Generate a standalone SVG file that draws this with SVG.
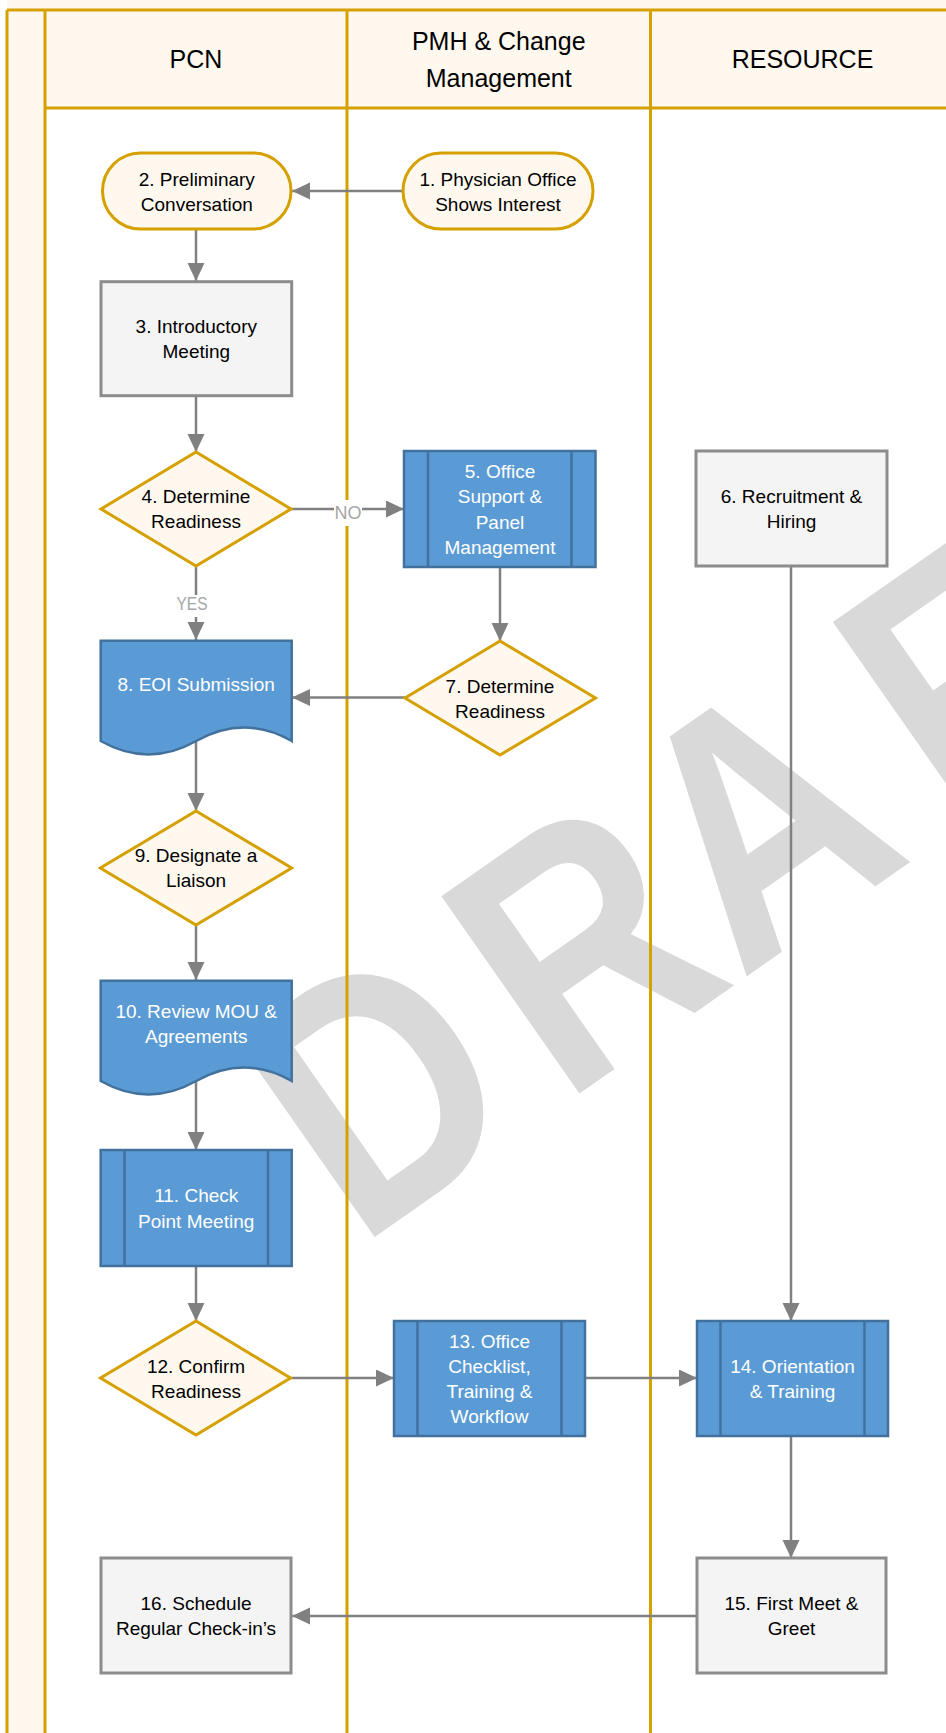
<svg xmlns="http://www.w3.org/2000/svg" width="946" height="1733" viewBox="0 0 946 1733">
<defs>
<style>
.lane{fill:none;stroke:#D5A000;stroke-width:3}
.term{fill:#FFF8EF;stroke:#D5A000;stroke-width:3}
.dec{fill:#FFF8EF;stroke:#D5A000;stroke-width:3;stroke-linejoin:miter}
.proc{fill:#F4F4F4;stroke:#8C8C8C;stroke-width:3}
.blue{fill:#5B9BD5;stroke:#41719C;stroke-width:2.5}
.bar{fill:none;stroke:#41719C;stroke-width:2.5}
.conn{fill:none;stroke:#808080;stroke-width:2.5}
.t{font-family:"Liberation Sans",Arial,sans-serif;font-size:19px;text-anchor:middle;fill:#000}
.w{fill:#FFFFFF}
.h{font-family:"Liberation Sans",Arial,sans-serif;font-size:25px;text-anchor:middle;fill:#000}
.lbl{font-family:"Liberation Sans",Arial,sans-serif;font-size:18px;text-anchor:middle;fill:#A6A6A6}
</style>
<marker id="ah" markerUnits="userSpaceOnUse" markerWidth="19" markerHeight="18" refX="18" refY="8.5" orient="auto">
<path d="M0,0 L18,8.5 L0,17 Z" fill="#808080"/>
</marker>
</defs>

<g id="pool">
<rect x="7" y="-40" width="960" height="1800" fill="#FFF8EF"/>
<rect x="45" y="108" width="920" height="1640" fill="#FFFFFF"/>
</g>

<g id="watermark" transform="translate(379,1240) rotate(-35) scale(0.85,1)">
<text x="-25.5 268.6 523.5 831 1045" y="-5" font-family="'Liberation Sans',Arial,sans-serif" font-weight="bold" font-size="350" fill="#D9D9D9">DRAFT</text>
</g>

<g id="lanes">
<line class="lane" x1="7" y1="10" x2="946" y2="10"/>
<line class="lane" x1="45" y1="108" x2="946" y2="108"/>
<line class="lane" x1="7" y1="10" x2="7" y2="1733"/>
<line class="lane" x1="45" y1="10" x2="45" y2="1733"/>
<line class="lane" x1="347" y1="10" x2="347" y2="1733"/>
<line class="lane" x1="650.5" y1="10" x2="650.5" y2="1733"/>
<text class="h" x="196" y="68.3">PCN</text>
<text class="h" x="498.75" y="50">PMH &amp; Change</text>
<text class="h" x="498.75" y="87">Management</text>
<text class="h" x="802.5" y="68.3">RESOURCE</text>
</g>

<g id="connectors">
<path class="conn" d="M403,191 H292" marker-end="url(#ah)"/>
<path class="conn" d="M196,229 V281" marker-end="url(#ah)"/>
<path class="conn" d="M196,396 V452" marker-end="url(#ah)"/>
<path class="conn" d="M291,509 H404" marker-end="url(#ah)"/>
<path class="conn" d="M196,566 V640" marker-end="url(#ah)"/>
<path class="conn" d="M500,567 V641" marker-end="url(#ah)"/>
<path class="conn" d="M405,697.5 H292" marker-end="url(#ah)"/>
<path class="conn" d="M196,741 V811" marker-end="url(#ah)"/>
<path class="conn" d="M196,925 V980" marker-end="url(#ah)"/>
<path class="conn" d="M196,1081 V1150" marker-end="url(#ah)"/>
<path class="conn" d="M196,1266 V1321" marker-end="url(#ah)"/>
<path class="conn" d="M290,1378 H394" marker-end="url(#ah)"/>
<path class="conn" d="M585,1378 H697" marker-end="url(#ah)"/>
<path class="conn" d="M791,566 V1321" marker-end="url(#ah)"/>
<path class="conn" d="M791,1436 V1558" marker-end="url(#ah)"/>
<path class="conn" d="M697,1616 H292" marker-end="url(#ah)"/>
<rect x="334" y="500" width="28" height="26" fill="#FFFFFF"/>
<text class="lbl" x="348" y="519">NO</text>
<rect x="176" y="595" width="32" height="22" fill="#FFFFFF"/>
<text class="lbl" x="192" y="609.5" textLength="31" lengthAdjust="spacingAndGlyphs">YES</text>
</g>

<g id="n1">
<rect class="term" x="403" y="153" width="190" height="76" rx="38" ry="38"/>
<text class="t" x="498" y="185.5">1. Physician Office</text>
<text class="t" x="498" y="210.5">Shows Interest</text>
</g>
<g id="n2">
<rect class="term" x="102.5" y="153" width="188.5" height="76" rx="38" ry="38"/>
<text class="t" x="196.8" y="185.5">2. Preliminary</text>
<text class="t" x="196.8" y="210.5">Conversation</text>
</g>
<g id="n3">
<rect class="proc" x="101" y="281.7" width="190.7" height="114"/>
<text class="t" x="196.3" y="333.3">3. Introductory</text>
<text class="t" x="196.3" y="358">Meeting</text>
</g>
<g id="n4">
<polygon class="dec" points="196,452 291,509 196,566 101,509"/>
<text class="t" x="196" y="502.5">4. Determine</text>
<text class="t" x="196" y="527.5">Readiness</text>
</g>
<g id="n5">
<rect class="blue" x="404" y="451" width="191.5" height="116"/>
<line class="bar" x1="428" y1="451" x2="428" y2="567"/>
<line class="bar" x1="571.5" y1="451" x2="571.5" y2="567"/>
<text class="t w" x="500" y="478">5. Office</text>
<text class="t w" x="500" y="503.3">Support &amp;</text>
<text class="t w" x="500" y="528.6">Panel</text>
<text class="t w" x="500" y="553.9">Management</text>
</g>
<g id="n6">
<rect class="proc" x="696" y="451" width="191" height="115"/>
<text class="t" x="791.5" y="502.7">6. Recruitment &amp;</text>
<text class="t" x="791.5" y="527.7">Hiring</text>
</g>
<g id="n7">
<polygon class="dec" points="500,641 595.5,698 500,755 405,698"/>
<text class="t" x="500" y="692.5">7. Determine</text>
<text class="t" x="500" y="717.7">Readiness</text>
</g>
<g id="n8">
<path class="blue" d="M100.7,640.7 H291.7 V741 Q243.95,714 196.2,741 T100.7,741 Z"/>
<text class="t w" x="196.2" y="691">8. EOI Submission</text>
</g>
<g id="n9">
<polygon class="dec" points="196,811 291.7,868 196,925 100.3,868"/>
<text class="t" x="196" y="862">9. Designate a</text>
<text class="t" x="196" y="887.3">Liaison</text>
</g>
<g id="n10">
<path class="blue" d="M100.7,980.7 H291.7 V1081 Q243.95,1054 196.2,1081 T100.7,1081 Z"/>
<text class="t w" x="196.2" y="1017.7">10. Review MOU &amp;</text>
<text class="t w" x="196.2" y="1042.7">Agreements</text>
</g>
<g id="n11">
<rect class="blue" x="100.7" y="1150" width="191" height="116"/>
<line class="bar" x1="124.5" y1="1150" x2="124.5" y2="1266"/>
<line class="bar" x1="268" y1="1150" x2="268" y2="1266"/>
<text class="t w" x="196.2" y="1202">11. Check</text>
<text class="t w" x="196.2" y="1227.5">Point Meeting</text>
</g>
<g id="n12">
<polygon class="dec" points="196,1321 290.5,1378 196,1435 100.5,1378"/>
<text class="t" x="196" y="1372.7">12. Confirm</text>
<text class="t" x="196" y="1397.5">Readiness</text>
</g>
<g id="n13">
<rect class="blue" x="394" y="1321" width="191" height="115"/>
<line class="bar" x1="417.5" y1="1321" x2="417.5" y2="1436"/>
<line class="bar" x1="561.5" y1="1321" x2="561.5" y2="1436"/>
<text class="t w" x="489.5" y="1348">13. Office</text>
<text class="t w" x="489.5" y="1373">Checklist,</text>
<text class="t w" x="489.5" y="1398">Training &amp;</text>
<text class="t w" x="489.5" y="1423">Workflow</text>
</g>
<g id="n14">
<rect class="blue" x="697" y="1321" width="191" height="115"/>
<line class="bar" x1="720.5" y1="1321" x2="720.5" y2="1436"/>
<line class="bar" x1="864.5" y1="1321" x2="864.5" y2="1436"/>
<text class="t w" x="792.5" y="1372.7">14. Orientation</text>
<text class="t w" x="792.5" y="1397.7">&amp; Training</text>
</g>
<g id="n15">
<rect class="proc" x="697" y="1558" width="189" height="115"/>
<text class="t" x="791.5" y="1609.5">15. First Meet &amp;</text>
<text class="t" x="791.5" y="1635">Greet</text>
</g>
<g id="n16">
<rect class="proc" x="101" y="1558" width="190" height="115"/>
<text class="t" x="196" y="1609.5">16. Schedule</text>
<text class="t" x="196" y="1635">Regular Check-in’s</text>
</g>
</svg>
